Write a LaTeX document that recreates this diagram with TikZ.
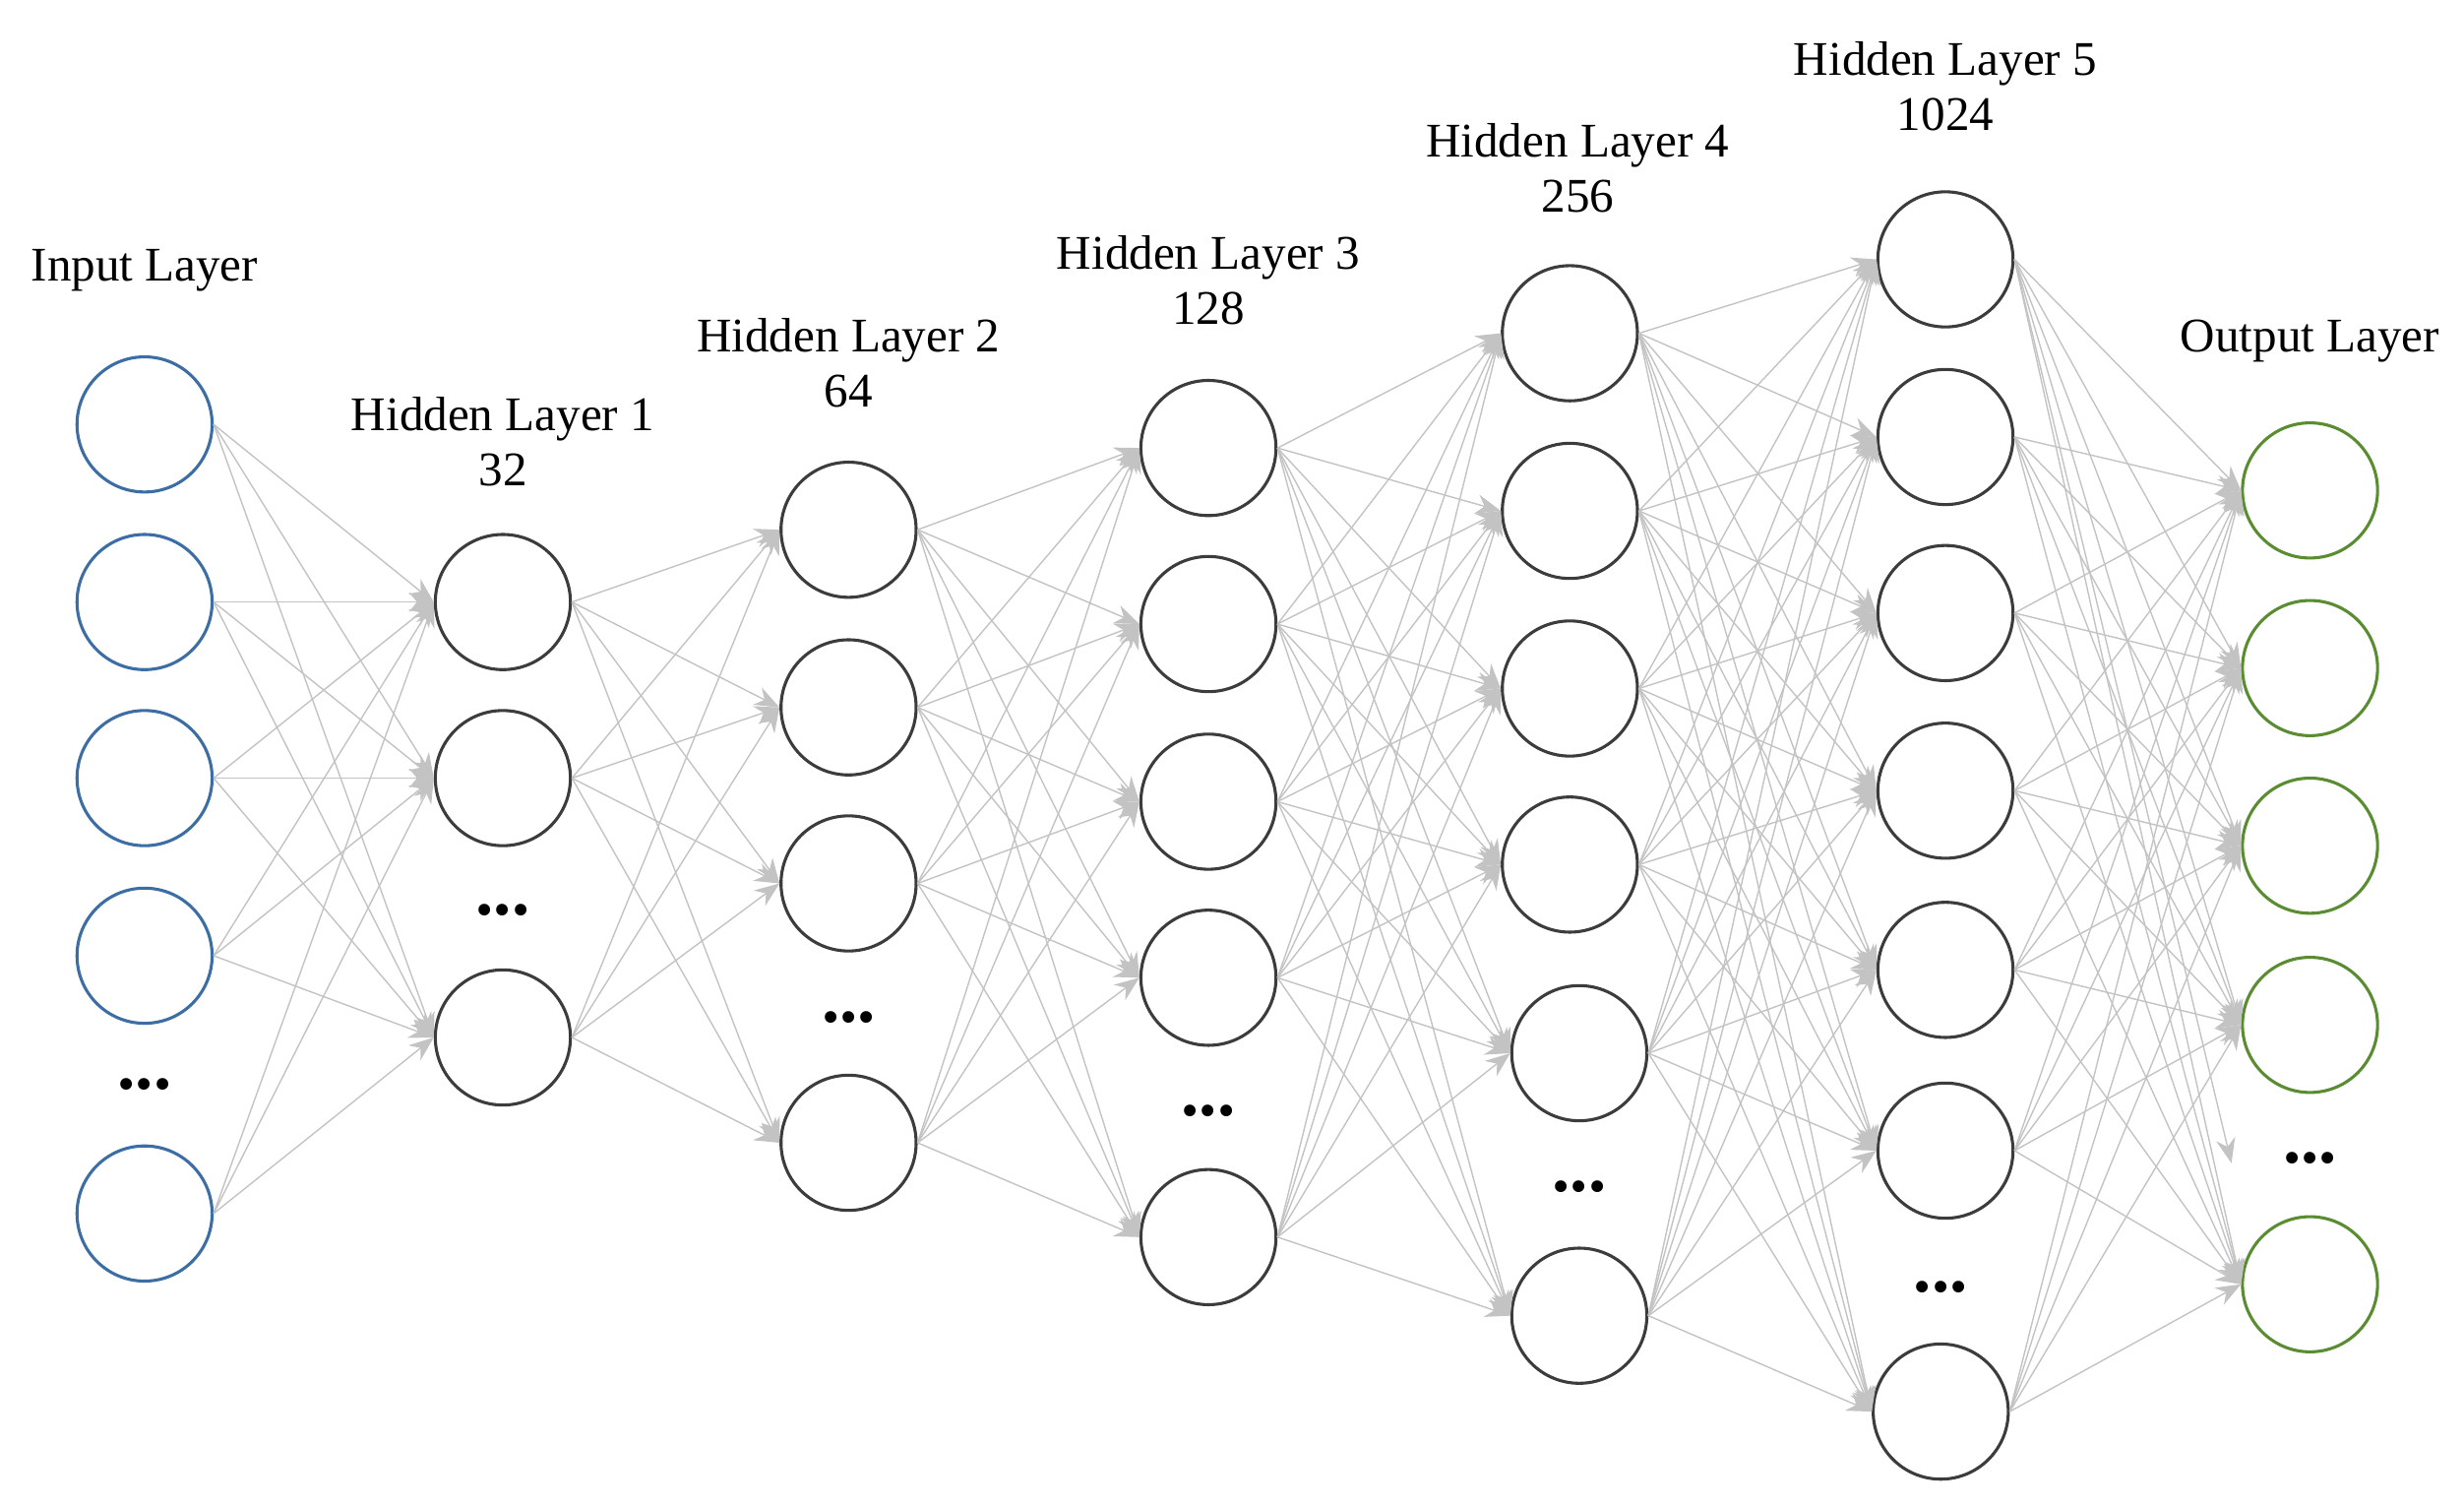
\documentclass[tikz,border=0pt]{standalone}
\usepackage{fontspec}
\setmainfont{Liberation Serif}
\usetikzlibrary{arrows.meta}
\definecolor{inb}{RGB}{60,110,165}
\definecolor{outg}{RGB}{90,140,50}
\definecolor{hid}{RGB}{60,60,60}
\definecolor{edg}{RGB}{195,195,195}
\begin{document}
\begin{tikzpicture}[x=0.02cm,y=-0.02cm,
  neu/.style={circle,draw=hid,line width=1.1pt,minimum size=1.72cm,inner sep=0pt},
  inn/.style={neu,draw=inb},
  outn/.style={neu,draw=outg},
  lab/.style={font=\fontsize{17.5}{20}\selectfont,align=center},
  dots/.style={font=\fontsize{26}{26}\selectfont\bfseries},
  edge/.style={draw=edg,line width=0.5pt,-{Stealth[length=9pt,width=7pt]}}]
\useasboundingbox (0,0) rectangle (1568,958);
% input
\foreach \y [count=\i] in {270,383,495,608,772} \node[inn] (a\i) at (92,\y) {};
\node[dots] (ad) at (92,690) {...};
\node[lab] (al) at (92,172) {Input Layer};
% H1
\foreach \y [count=\i] in {383,495,660} \node[neu] (b\i) at (320,\y) {};
\node[dots] (bd) at (320,579) {...};
\node[lab] (bl) at (320,281) {Hidden Layer 1\\32};
% H2
\foreach \y [count=\i] in {337,450,562,727} \node[neu] (c\i) at (540,\y) {};
\node[dots] (cd) at (540,647) {...};
\node[lab] (cl) at (540,231) {Hidden Layer 2\\64};
% H3
\foreach \y [count=\i] in {285,397,510,622,787} \node[neu] (d\i) at (769,\y) {};
\node[dots] (dd) at (769,707) {...};
\node[lab] (dl) at (769,178) {Hidden Layer 3\\128};
% H4
\foreach \x/\y [count=\i] in {999/212,999/325,999/438,999/550,1005/670,1005/837} \node[neu] (e\i) at (\x,\y) {};
\node[dots] (ed) at (1005,755) {...};
\node[lab] (el) at (1004,107) {Hidden Layer 4\\256};
% H5
\foreach \x/\y [count=\i] in {1238/165,1238/278,1238/390,1238/503,1238/617,1238/732,1235/898} \node[neu] (f\i) at (\x,\y) {};
\node[dots] (fd) at (1235,819) {...};
\node[lab] (fl) at (1238,55) {Hidden Layer 5\\1024};
% output
\foreach \y [count=\i] in {312,425,538,652,817} \node[outn] (g\i) at (1470,\y) {};
\node[dots] (gd) at (1470,737) {...};
\coordinate (gdw) at (1420,740);
\node[lab] (gl) at (1470,217) {Output Layer};
% edges
\foreach \i in {1,...,5}{\foreach \j in {1,...,3}{\draw[edge] (a\i.east) -- (b\j.west);}}
\foreach \i in {1,...,3}{\foreach \j in {1,...,4}{\draw[edge] (b\i.east) -- (c\j.west);}}
\foreach \i in {1,...,4}{\foreach \j in {1,...,5}{\draw[edge] (c\i.east) -- (d\j.west);}}
\foreach \i in {1,...,5}{\foreach \j in {1,...,6}{\draw[edge] (d\i.east) -- (e\j.west);}}
\foreach \i in {1,...,6}{\foreach \j in {1,...,7}{\draw[edge] (e\i.east) -- (f\j.west);}}
\foreach \i in {1,...,7}{\foreach \j in {1,...,5}{\draw[edge] (f\i.east) -- (g\j.west);}}
\draw[edge] (f1.east) -- (gdw);
\end{tikzpicture}
\end{document}
